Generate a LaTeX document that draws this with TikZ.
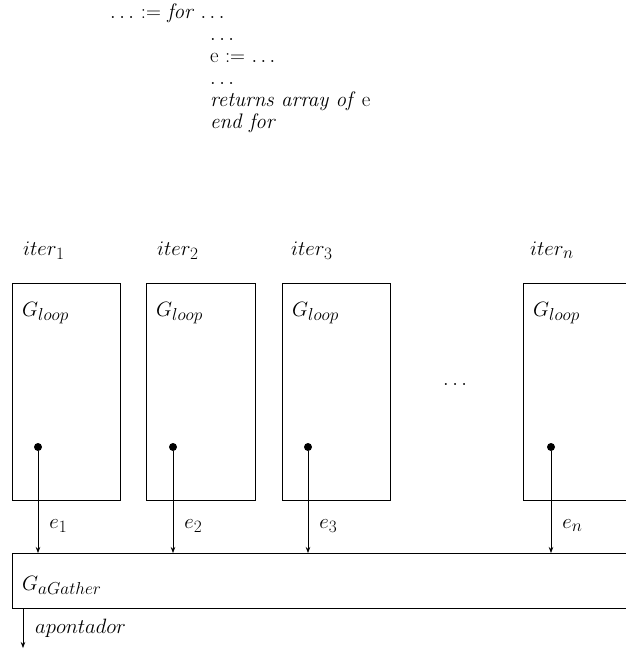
\documentclass[tikz,border=0pt]{standalone}
\usetikzlibrary{arrows.meta}
\DeclareMathSizes{21}{21}{16}{12}
\begin{document}
\begin{tikzpicture}[x=1pt,y=-1pt,
  txt/.style={inner sep=0pt, anchor=base west, font=\fontsize{21}{25}\selectfont},
  loopbox/.style={draw, line width=1.3pt, inner sep=0pt, anchor=north west},
  flow/.style={-{Stealth[length=6pt,width=4.5pt]}, line width=0.7pt},
  port/.style={circle, fill, inner sep=0pt, minimum size=8pt}]
\useasboundingbox (0,0) rectangle (625,657);

% source fragment
\node[txt] (l0) at (110,18) {$\ldots\,{:=}$\ \textit{for}\ $\ldots$};
\node[txt] (l1) at (210,40) {$\ldots$};
\node[txt] (l2) at (210,62) {e $:=$ $\ldots$};
\node[txt] (l3) at (210,84) {$\ldots$};
\node[txt] (l4) at (210,106) {\textit{returns array of} e};
\node[txt] (l5) at (210,128) {\textit{end for}};

% iteration labels
\node[txt] (it1) at (23,255) {$iter_1$};
\node[txt] (it2) at (157,255) {$iter_2$};
\node[txt] (it3) at (291,255) {$iter_3$};
\node[txt] (itn) at (530,255) {$iter_n$};

% loop bodies
\node[loopbox, minimum width=108pt, minimum height=217pt] (b1) at (12,283) {};
\node[loopbox, minimum width=109pt, minimum height=217pt] (b2) at (146,283) {};
\node[loopbox, minimum width=108pt, minimum height=217pt] (b3) at (282,283) {};
\node[loopbox, minimum width=130pt, minimum height=217pt] (bn) at (523,283) {};

\node[txt] (g1) at (22,316) {$G_{loop}$};
\node[txt] (g2) at (156,316) {$G_{loop}$};
\node[txt] (g3) at (292,316) {$G_{loop}$};
\node[txt] (gn) at (533,316) {$G_{loop}$};

\node[txt] (gap) at (443,385) {$\ldots$};

% result ports
\node[port] (d1) at (38,447) {};
\node[port] (d2) at (173,447) {};
\node[port] (d3) at (308,447) {};
\node[port] (dn) at (551,447) {};

% gather block
\node[loopbox, minimum width=640pt, minimum height=55pt] (ga) at (12,553) {};
\node[txt] (gal) at (22,590) {$G_{aGather}$};

% element flows
\draw[flow] (d1) -- (d1 |- ga.north) node[txt, pos=0.76, xshift=11pt] (e1) {$e_1$};
\draw[flow] (d2) -- (d2 |- ga.north) node[txt, pos=0.76, xshift=11pt] (e2) {$e_2$};
\draw[flow] (d3) -- (d3 |- ga.north) node[txt, pos=0.76, xshift=11pt] (e3) {$e_3$};
\draw[flow] (dn) -- (dn |- ga.north) node[txt, pos=0.76, xshift=11pt] (en) {$e_n$};

% result pointer
\coordinate (out) at (23,648);
\draw[flow] (out |- ga.south) -- (out);
\node[txt] (ap) at (35,633) {$apontador$};
\end{tikzpicture}
\end{document}
